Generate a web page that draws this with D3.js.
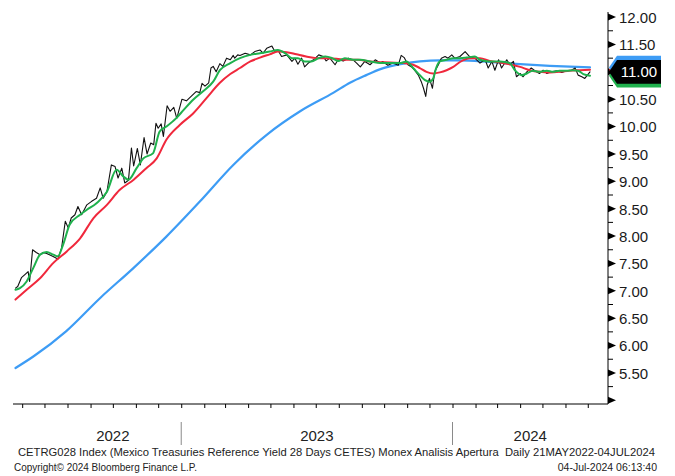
<!DOCTYPE html>
<html><head><meta charset="utf-8">
<script src="https://cdn.jsdelivr.net/npm/d3@7"></script>
<style>html,body{margin:0;padding:0;background:#fff}svg{display:block}</style>
</head><body><svg id="c" width="675" height="476"></svg>
<script>
// ---------- DATA ----------
const blackDates = ["2022-05-23","2022-05-26","2022-05-31","2022-06-05","2022-06-09","2022-06-11","2022-06-15","2022-06-20","2022-06-25","2022-06-29","2022-07-04","2022-07-12","2022-07-19","2022-07-24","2022-07-29","2022-08-02","2022-08-06","2022-08-11","2022-08-15","2022-08-20","2022-08-27","2022-09-02","2022-09-09","2022-09-14","2022-09-18","2022-09-23","2022-09-29","2022-10-04","2022-10-08","2022-10-13","2022-10-17","2022-10-22","2022-10-26","2022-10-29","2022-11-03","2022-11-07","2022-11-12","2022-11-16","2022-11-21","2022-11-25","2022-11-28","2022-12-01","2022-12-05","2022-12-08","2022-12-13","2022-12-17","2022-12-22","2022-12-26","2023-01-02","2023-01-08","2023-01-15","2023-01-21","2023-01-26","2023-01-29","2023-02-02","2023-02-07","2023-02-10","2023-02-13","2023-02-17","2023-02-22","2023-02-26","2023-03-03","2023-03-08","2023-03-12","2023-03-14","2023-03-18","2023-03-21","2023-03-28","2023-04-04","2023-04-10","2023-04-17","2023-04-21","2023-04-26","2023-05-03","2023-05-07","2023-05-11","2023-05-16","2023-05-23","2023-05-30","2023-06-03","2023-06-07","2023-06-12","2023-06-16","2023-06-21","2023-06-28","2023-07-05","2023-07-11","2023-07-15","2023-07-20","2023-07-27","2023-07-31","2023-08-07","2023-08-14","2023-08-21","2023-08-25","2023-08-30","2023-09-05","2023-09-12","2023-09-19","2023-09-26","2023-09-29","2023-10-06","2023-10-13","2023-10-20","2023-10-24","2023-10-28","2023-11-02","2023-11-07","2023-11-11","2023-11-16","2023-11-20","2023-11-23","2023-11-26","2023-11-28","2023-12-01","2023-12-05","2023-12-08","2023-12-13","2023-12-17","2023-12-22","2023-12-26","2023-12-31","2024-01-04","2024-01-11","2024-01-18","2024-01-24","2024-01-31","2024-02-07","2024-02-14","2024-02-18","2024-02-23","2024-02-27","2024-03-03","2024-03-07","2024-03-14","2024-03-18","2024-03-23","2024-03-27","2024-04-01","2024-04-05","2024-04-10","2024-04-16","2024-04-23","2024-04-27","2024-05-02","2024-05-07","2024-05-13","2024-05-20","2024-05-27","2024-06-03","2024-06-09","2024-06-14","2024-06-18","2024-06-23","2024-06-27","2024-07-04"];
const blackValues = [7.05,7.08,7.24,7.30,7.35,7.17,7.75,7.70,7.66,7.70,7.68,7.63,7.58,7.78,8.27,8.15,8.33,8.39,8.54,8.39,8.57,8.63,8.69,8.88,8.69,8.81,9.30,9.27,9.06,9.24,8.97,9.02,9.61,9.28,9.60,9.30,9.80,9.50,9.70,9.67,10.06,9.97,10.05,9.82,10.38,10.28,10.35,10.15,10.50,10.47,10.56,10.64,10.62,10.79,10.74,10.80,11.07,11.10,11.00,11.15,11.10,11.25,11.22,11.30,11.25,11.31,11.30,11.34,11.31,11.37,11.40,11.34,11.43,11.47,11.37,11.40,11.28,11.31,11.19,11.25,11.14,11.25,11.09,11.16,11.22,11.31,11.28,11.20,11.25,11.13,11.22,11.20,11.25,11.21,11.16,11.09,11.19,11.13,11.22,11.16,11.19,11.12,11.16,11.12,11.30,11.26,11.13,11.09,11.03,10.94,10.82,10.70,10.55,10.76,10.88,10.70,11.00,11.13,11.25,11.28,11.25,11.31,11.25,11.28,11.37,11.28,11.25,11.16,11.22,11.07,11.19,11.03,11.22,11.07,11.22,11.13,11.19,10.91,10.97,10.91,11.00,11.07,11.00,10.97,11.03,10.97,11.00,11.02,10.99,11.02,11.03,11.07,10.94,10.91,10.88,11.00];

const greenDates = ["2022-05-23","2022-05-29","2022-06-07","2022-06-16","2022-06-25","2022-07-04","2022-07-13","2022-07-19","2022-07-26","2022-08-04","2022-08-18","2022-08-27","2022-09-09","2022-09-23","2022-10-06","2022-10-15","2022-10-22","2022-11-02","2022-11-11","2022-11-24","2022-12-03","2022-12-12","2022-12-25","2023-01-04","2023-01-17","2023-01-30","2023-02-13","2023-02-22","2023-03-08","2023-03-21","2023-04-04","2023-04-17","2023-04-30","2023-05-11","2023-05-21","2023-05-30","2023-06-07","2023-06-16","2023-06-25","2023-07-05","2023-07-14","2023-07-23","2023-07-31","2023-08-09","2023-08-21","2023-08-30","2023-09-12","2023-09-26","2023-10-09","2023-10-23","2023-10-31","2023-11-09","2023-11-18","2023-11-25","2023-12-01","2023-12-06","2023-12-10","2023-12-15","2023-12-24","2024-01-02","2024-01-11","2024-01-20","2024-01-31","2024-02-07","2024-02-20","2024-03-05","2024-03-18","2024-03-25","2024-04-03","2024-04-10","2024-04-18","2024-04-27","2024-05-07","2024-05-15","2024-05-24","2024-06-03","2024-06-11","2024-06-18","2024-06-25","2024-07-04"];
const greenValues = [7.02,7.05,7.17,7.42,7.66,7.71,7.66,7.63,7.84,8.21,8.39,8.48,8.60,8.81,9.21,9.09,9.03,9.24,9.42,9.51,9.91,10.00,10.15,10.30,10.49,10.64,10.82,11.03,11.16,11.25,11.31,11.34,11.37,11.40,11.34,11.25,11.25,11.19,11.19,11.25,11.28,11.25,11.20,11.25,11.22,11.22,11.19,11.16,11.16,11.16,11.19,11.07,10.94,10.85,10.82,10.88,11.07,11.19,11.22,11.25,11.25,11.26,11.28,11.22,11.19,11.19,11.16,11.03,10.94,10.97,11.02,11.00,11.02,11.00,11.02,11.02,11.03,11.02,10.96,10.93];

const redDates = ["2022-05-23","2022-06-07","2022-06-25","2022-07-13","2022-07-31","2022-08-18","2022-09-05","2022-09-23","2022-10-10","2022-10-29","2022-11-15","2022-11-29","2022-12-12","2022-12-30","2023-01-17","2023-02-04","2023-02-22","2023-03-08","2023-03-21","2023-04-04","2023-04-17","2023-04-30","2023-05-11","2023-05-23","2023-06-05","2023-06-18","2023-07-02","2023-07-15","2023-07-29","2023-08-11","2023-08-27","2023-09-12","2023-10-09","2023-10-27","2023-11-09","2023-11-18","2023-11-27","2023-12-06","2023-12-15","2023-12-24","2024-01-02","2024-01-11","2024-01-24","2024-02-07","2024-02-20","2024-03-05","2024-03-18","2024-04-01","2024-04-14","2024-04-27","2024-05-11","2024-05-24","2024-06-06","2024-06-20","2024-07-04"];
const redValues = [6.84,7.02,7.23,7.51,7.72,7.96,8.33,8.57,8.84,9.03,9.24,9.42,9.76,10.03,10.24,10.52,10.80,10.96,11.07,11.19,11.26,11.32,11.37,11.36,11.32,11.28,11.25,11.25,11.24,11.22,11.22,11.19,11.17,11.16,11.13,11.07,11.00,10.97,10.99,11.03,11.09,11.18,11.25,11.25,11.20,11.17,11.14,11.09,11.03,11.00,10.99,11.00,11.02,11.03,11.04];

const blueDates = ["2022-05-23","2022-06-16","2022-07-30","2022-09-14","2022-10-29","2022-12-12","2023-01-26","2023-03-12","2023-04-26","2023-06-10","2023-07-25","2023-08-16","2023-09-07","2023-09-26","2023-10-23","2023-11-18","2023-12-15","2024-01-11","2024-02-20","2024-04-01","2024-05-11","2024-07-04"];
const blueValues = [5.59,5.80,6.26,6.87,7.42,7.99,8.63,9.30,9.85,10.28,10.62,10.80,10.94,11.05,11.14,11.19,11.21,11.21,11.18,11.14,11.11,11.08];

const yTickLabels = ["5.50","6.00","6.50","7.00","7.50","8.00","8.50","9.00","9.50","10.00","10.50","11.00","11.50","12.00"];
const yearLabels = ["2022","2023","2024"];
const footerLine1 = "CETRG028 Index (Mexico Treasuries Reference Yield 28 Days CETES) Monex Analisis Apertura  Daily 21MAY2022-04JUL2024";
const footerLeft2 = "Copyright\u00A9 2024 Bloomberg Finance L.P.";
const footerRight2 = "04-Jul-2024 06:13:40";
const dateRange = ["2022-05-21","2024-07-04"];

// ---------- CHART ----------
const parse = d3.timeParse("%Y-%m-%d");
const svg = d3.select("#c");
svg.append("rect").attr("width",675).attr("height",476).attr("fill","#fff");
const FONT = "'Liberation Sans', Arial, sans-serif";

const x = d3.scaleTime().domain(dateRange.map(parse)).range([14, 590]);
const y = d3.scaleLinear().domain([5, 12]).range([400.3, 17.1]);
const axisX = 608, axisY = 404;

const mk = (ds, vs) => ds.map((d,i)=>({d:parse(d), v:vs[i]}));
const lineLin = d3.line().x(p=>x(p.d)).y(p=>y(p.v));
const lineSmooth = d3.line().x(p=>x(p.d)).y(p=>y(p.v)).curve(d3.curveMonotoneX);

const series = [
  {data: mk(blueDates, blueValues), color:"#3d9cf5", w:2.2, gen:lineSmooth},
  {data: mk(blackDates, blackValues), color:"#111", w:1.1, gen:lineLin},
  {data: mk(redDates, redValues), color:"#f0283c", w:2.0, gen:lineSmooth},
  {data: mk(greenDates, greenValues), color:"#1fb14d", w:2.0, gen:lineSmooth}
];
series.forEach(s=>{
  svg.append("path").attr("d", s.gen(s.data)).attr("fill","none")
    .attr("stroke", s.color).attr("stroke-width", s.w)
    .attr("stroke-linejoin","round").attr("stroke-linecap","round");
});

// X axis
const gx = svg.append("g").attr("transform",`translate(0,${axisY})`)
  .call(d3.axisBottom(x).ticks(d3.timeMonth.every(1)).tickSize(4).tickFormat(""));
gx.select(".domain").remove();
gx.selectAll(".tick line").attr("stroke","#000");
svg.append("line").attr("x1",13).attr("x2",axisX).attr("y1",axisY).attr("y2",axisY)
  .attr("stroke","#000").attr("stroke-width",1);

// Year separators + labels
const d0 = x.domain()[0], d1 = x.domain()[1];
yearLabels.forEach((lab,i)=>{
  const ys = new Date(+lab,0,1), ye = new Date(+lab+1,0,1);
  if (ys > d0) {
    svg.append("line").attr("x1",x(ys)).attr("x2",x(ys)).attr("y1",422).attr("y2",445)
      .attr("stroke","#8a8a8a").attr("stroke-width",1);
  }
  let lo = ys > d0 ? x(ys) : x(d3.timeMonth.offset(d3.timeMonth.ceil(d0),1));
  let hi = ye < d1 ? x(ye) : axisX;
  svg.append("text").attr("x",(lo+hi)/2).attr("y",441).attr("text-anchor","middle")
    .attr("font-family",FONT).attr("font-size",15).attr("fill","#222").text(lab);
});

// Y axis
const lastBlack = blackValues[blackValues.length-1];
svg.append("line").attr("x1",axisX).attr("x2",axisX).attr("y1",12).attr("y2",axisY)
  .attr("stroke","#000").attr("stroke-width",1);
// labels hidden behind the last-value tag are not drawn (the tag shows the value)
const visibleTicks = yTickLabels.filter(l => Math.abs(y(+l) - y(lastBlack)) > 14);
const gy = svg.append("g").attr("transform",`translate(${axisX},0)`)
  .call(d3.axisRight(y).tickValues(visibleTicks.map(Number)).tickSize(0).tickPadding(11)
        .tickFormat((d,i)=>visibleTicks[i]));
gy.select(".domain").remove();
gy.selectAll("text").attr("font-family",FONT).attr("font-size",15).attr("fill","#1a1a1a")
  .attr("dy","0.36em");
// major tick flags
const majors = d3.range(5, 12.01, 0.5);
svg.append("g").selectAll("path").data(majors).join("path")
  .attr("d", v=>`M${axisX},${y(v)-3.5}L${axisX+8},${y(v)}L${axisX},${y(v)+3.5}Z`)
  .attr("fill","#000");
const minors = d3.range(5.25, 12, 0.5);
svg.append("g").selectAll("line").data(minors).join("line")
  .attr("x1",axisX).attr("x2",axisX+5).attr("y1",v=>y(v)).attr("y2",v=>y(v))
  .attr("stroke","#000").attr("stroke-width",1);

// last-value tags
function tag(v, fill){
  const cy = y(v);
  return svg.append("path")
    .attr("d",`M${axisX+1},${cy}L${axisX+9},${cy-11.8}L661,${cy-11.8}L661,${cy+11.8}L${axisX+9},${cy+11.8}Z`)
    .attr("fill",fill);
}
tag(redValues[redValues.length-1], "#f0283c");
tag(blueValues[blueValues.length-1], "#3d9cf5");
tag(greenValues[greenValues.length-1], "#1fb14d");
tag(lastBlack, "#000");
svg.append("text").attr("x",639).attr("y",y(lastBlack)).attr("dy","0.36em")
  .attr("text-anchor","middle").attr("font-family",FONT).attr("font-size",15)
  .attr("fill","#fff").text(d3.format(".2f")(lastBlack));

// Footer
svg.append("text").attr("x",18).attr("y",456).attr("font-family",FONT).attr("font-size",10.5)
  .attr("fill","#222").attr("textLength",637).attr("lengthAdjust","spacingAndGlyphs")
  .style("white-space","pre").text(footerLine1);
svg.append("text").attr("x",14).attr("y",471).attr("font-family",FONT).attr("font-size",10.5)
  .attr("fill","#222").attr("textLength",183).attr("lengthAdjust","spacingAndGlyphs")
  .text(footerLeft2);
svg.append("text").attr("x",657).attr("y",471).attr("text-anchor","end").attr("font-family",FONT)
  .attr("font-size",10.5).attr("fill","#222").text(footerRight2);
</script></body></html>
